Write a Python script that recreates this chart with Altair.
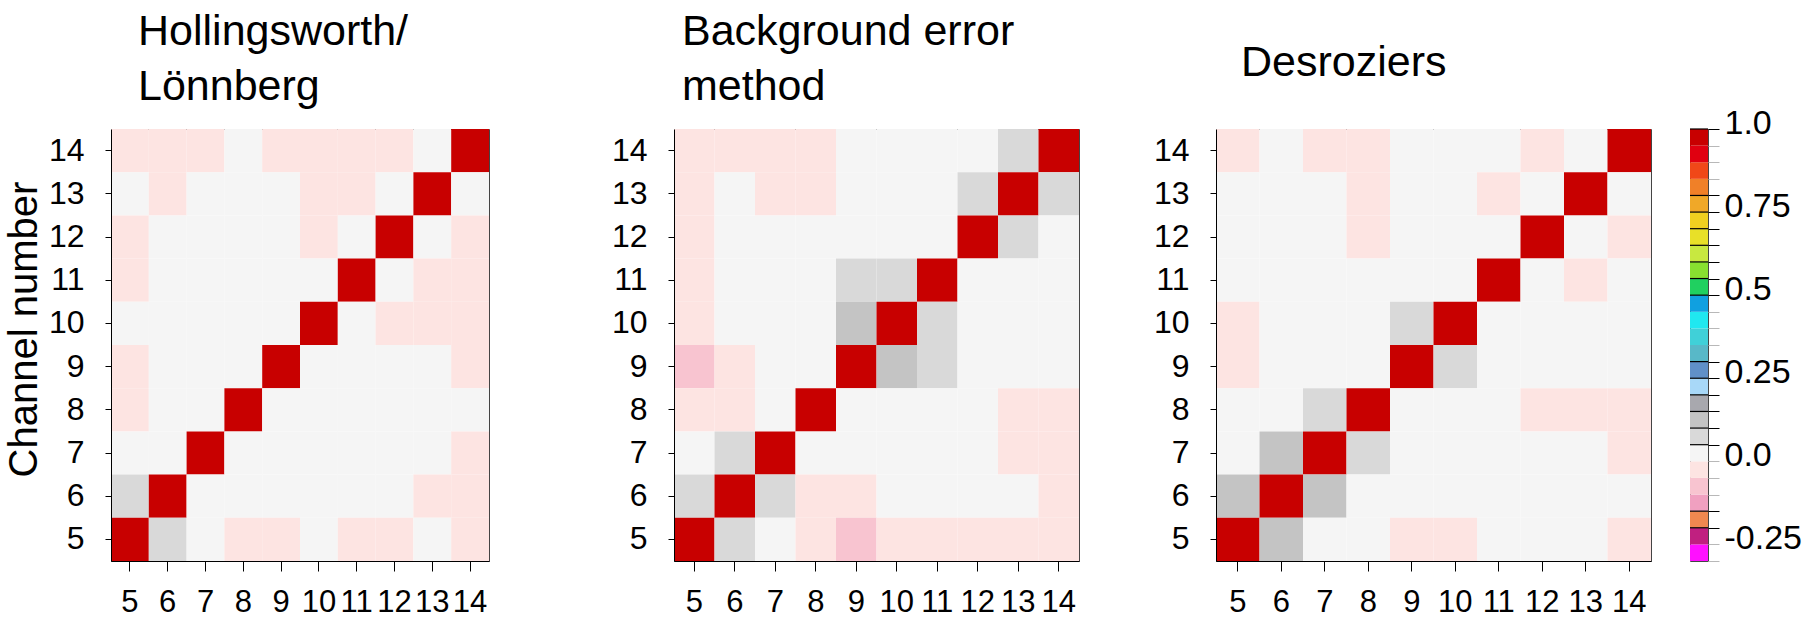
import json

import altair as alt
import pandas as pd

FONT = "Liberation Sans"

# Channel numbers on both axes
channels = [5, 6, 7, 8, 9, 10, 11, 12, 13, 14]
# Row order of the matrices below (top row first)
rows_top_down = [14, 13, 12, 11, 10, 9, 8, 7, 6, 5]

# Observation-error correlation matrices, one row per channel (top = 14)
hollingsworth = [
    [-0.02, -0.02, -0.02, 0.02, -0.02, -0.02, -0.02, -0.02, 0.02, 1.0],
    [0.02, -0.02, 0.02, 0.02, 0.02, -0.02, -0.02, 0.02, 1.0, 0.02],
    [-0.02, 0.02, 0.02, 0.02, 0.02, -0.02, 0.02, 1.0, 0.02, -0.02],
    [-0.02, 0.02, 0.02, 0.02, 0.02, 0.02, 1.0, 0.02, -0.02, -0.02],
    [0.02, 0.02, 0.02, 0.02, 0.02, 1.0, 0.02, -0.02, -0.02, -0.02],
    [-0.02, 0.02, 0.02, 0.02, 1.0, 0.02, 0.02, 0.02, 0.02, -0.02],
    [-0.02, 0.02, 0.02, 1.0, 0.02, 0.02, 0.02, 0.02, 0.02, 0.02],
    [0.02, 0.02, 1.0, 0.02, 0.02, 0.02, 0.02, 0.02, 0.02, -0.02],
    [0.07, 1.0, 0.02, 0.02, 0.02, 0.02, 0.02, 0.02, -0.02, -0.02],
    [1.0, 0.07, 0.02, -0.02, -0.02, 0.02, -0.02, -0.02, 0.02, -0.02],
]

background = [
    [-0.02, -0.02, -0.02, -0.02, 0.02, 0.02, 0.02, 0.02, 0.07, 1.0],
    [-0.02, 0.02, -0.02, -0.02, 0.02, 0.02, 0.02, 0.07, 1.0, 0.07],
    [-0.02, 0.02, 0.02, 0.02, 0.02, 0.02, 0.02, 1.0, 0.07, 0.02],
    [-0.02, 0.02, 0.02, 0.02, 0.07, 0.07, 1.0, 0.02, 0.02, 0.02],
    [-0.02, 0.02, 0.02, 0.02, 0.12, 1.0, 0.07, 0.02, 0.02, 0.02],
    [-0.07, -0.02, 0.02, 0.02, 1.0, 0.12, 0.07, 0.02, 0.02, 0.02],
    [-0.02, -0.02, 0.02, 1.0, 0.02, 0.02, 0.02, 0.02, -0.02, -0.02],
    [0.02, 0.07, 1.0, 0.02, 0.02, 0.02, 0.02, 0.02, -0.02, -0.02],
    [0.07, 1.0, 0.07, -0.02, -0.02, 0.02, 0.02, 0.02, 0.02, -0.02],
    [1.0, 0.07, 0.02, -0.02, -0.07, -0.02, -0.02, -0.02, -0.02, -0.02],
]

desroziers = [
    [-0.02, 0.02, -0.02, -0.02, 0.02, 0.02, 0.02, -0.02, 0.02, 1.0],
    [0.02, 0.02, 0.02, -0.02, 0.02, 0.02, -0.02, 0.02, 1.0, 0.02],
    [0.02, 0.02, 0.02, -0.02, 0.02, 0.02, 0.02, 1.0, 0.02, -0.02],
    [0.02, 0.02, 0.02, 0.02, 0.02, 0.02, 1.0, 0.02, -0.02, 0.02],
    [-0.02, 0.02, 0.02, 0.02, 0.07, 1.0, 0.02, 0.02, 0.02, 0.02],
    [-0.02, 0.02, 0.02, 0.02, 1.0, 0.07, 0.02, 0.02, 0.02, 0.02],
    [0.02, 0.02, 0.07, 1.0, 0.02, 0.02, 0.02, -0.02, -0.02, -0.02],
    [0.02, 0.12, 1.0, 0.07, 0.02, 0.02, 0.02, 0.02, 0.02, -0.02],
    [0.12, 1.0, 0.12, 0.02, 0.02, 0.02, 0.02, 0.02, 0.02, 0.02],
    [1.0, 0.12, 0.02, 0.02, -0.02, -0.02, 0.02, 0.02, 0.02, -0.02],
]

panel_titles = [
    ["Hollingsworth/", "Lönnberg"],
    ["Background error", "method"],
    ["Desroziers"],
]

# Colour bar: 26 bands of width 0.05 from -0.3 to 1.0
band_edges = [-0.3, -0.25, -0.2, -0.15, -0.1, -0.05, 0.0, 0.05, 0.1, 0.15,
              0.2, 0.25, 0.3, 0.35, 0.4, 0.45, 0.5, 0.55, 0.6, 0.65,
              0.7, 0.75, 0.8, 0.85, 0.9, 0.95, 1.0]
band_colors = [
    "#ff10ff", "#c02080", "#f08850", "#f0a0c0", "#f8c4d0", "#fde4e2",
    "#f5f5f5", "#d9d9d9", "#c4c4c4", "#a8a8ae", "#a8d8f8", "#6090c8",
    "#58b8c8", "#40d0d8", "#20e8f0", "#10a0e0", "#20d060", "#88e030",
    "#c8e840", "#e8e028", "#f0d020", "#f0a828", "#f08028", "#f04818",
    "#e00010", "#c80000",
]
# Band boundaries drawn with a dark line across the bar
dark_ticks = [1.0, 0.8, 0.75, 0.7, 0.65, 0.6, 0.55, 0.5, 0.3, 0.25,
              0.2, 0.15, 0.1, 0.05, -0.15, -0.2]
cbar_labels = {1.0: "1.0", 0.75: "0.75", 0.5: "0.5", 0.25: "0.25",
               0.0: "0.0", -0.25: "-0.25"}

color_scale = alt.Scale(type="threshold", domain=band_edges[1:-1], range=band_colors)

PANEL_H = 432


def matrix_frame(matrix):
    recs = []
    for yi, row in zip(rows_top_down, matrix):
        for xi, v in zip(channels, row):
            recs.append({"x": xi, "y": yi, "v": v})
    return pd.DataFrame(recs)


x_axis = alt.Axis(
    title=None, labelFontSize=31, labelFont=FONT, labelColor="black",
    labelAngle=0, tickSize=10, tickColor="black", domainColor="black",
    labelPadding=16, labelOverlap=False,
)


def y_axis(extent, with_title):
    kw = dict(
        labelFontSize=32, labelFont=FONT, labelColor="black", tickSize=6,
        tickColor="black", domainColor="black", labelPadding=21,
        labelOverlap=False, minExtent=extent, maxExtent=extent,
    )
    if with_title:
        kw.update(title="Channel number", titleFontSize=40, titleFont=FONT,
                  titleFontWeight="normal", titleColor="black",
                  titlePadding=9, titleY=200)
    else:
        kw.update(title=None)
    return alt.Axis(**kw)


def panel(matrix, title, width, yaxis, dx, offset):
    return alt.Chart(matrix_frame(matrix)).mark_rect().encode(
        x=alt.X("x:O", axis=x_axis, scale=alt.Scale(paddingInner=0, paddingOuter=0)),
        y=alt.Y("y:O", sort="descending", axis=yaxis,
                scale=alt.Scale(paddingInner=0, paddingOuter=0)),
        color=alt.Color("v:Q", scale=color_scale, legend=None),
    ).properties(
        width=width, height=PANEL_H,
        title=alt.TitleParams(
            text=title, anchor="start", frame="group", dx=dx, offset=offset,
            fontSize=43, font=FONT, fontWeight="normal", lineHeight=55,
            color="black",
        ),
    )


p1 = panel(hollingsworth, panel_titles[0], 378, y_axis(58, True), 27, 20)
p2 = panel(background, panel_titles[1], 405, y_axis(147, False), 8, 20)
p3 = panel(desroziers, panel_titles[2], 435, y_axis(99, False), 25, 44)

# Colour bar
cbar_df = pd.DataFrame({
    "lo": band_edges[:-1],
    "hi": band_edges[1:],
    "c": band_colors,
})
cbar_scale = alt.Scale(domain=[-0.3, 1.0], nice=False, zero=False)

label_expr = "''"
for val, txt in cbar_labels.items():
    label_expr = f"datum.value == {val} ? '{txt}' : ({label_expr})"

tick_color = {
    "condition": {"test": f"indexof({json.dumps(dark_ticks)}, datum.value) >= 0",
                  "value": "black"},
    "value": "#b8b8b8",
}

cbar_axis = alt.Axis(
    orient="right", values=band_edges, labelExpr=label_expr, title=None,
    tickSize=11, tickColor=tick_color, labelFontSize=34, labelFont=FONT,
    labelColor="black", labelPadding=5, domain=False, grid=False,
    labelFlush=False, labelOverlap=False, labelOffset=-6,
)

lines = alt.Chart(pd.DataFrame({"lo": dark_ticks})).mark_rule(
    color="black", strokeWidth=1.2
).encode(y=alt.Y("lo:Q", scale=cbar_scale, axis=cbar_axis))

bands = alt.Chart(cbar_df).mark_rect().encode(
    y=alt.Y("lo:Q", scale=cbar_scale, axis=cbar_axis),
    y2="hi:Q",
    color=alt.Color("c:N", scale=None),
)

cbar = alt.layer(bands, lines).properties(width=18, height=PANEL_H)

chart = alt.hconcat(p1, p2, p3, cbar, spacing=36).properties(
    padding={"left": 3, "top": 10, "right": 0, "bottom": 0},
    background="white",
).configure_view(stroke="#444", strokeWidth=1)

chart.save("out.html", embed_options={"renderer": "svg", "actions": False})
